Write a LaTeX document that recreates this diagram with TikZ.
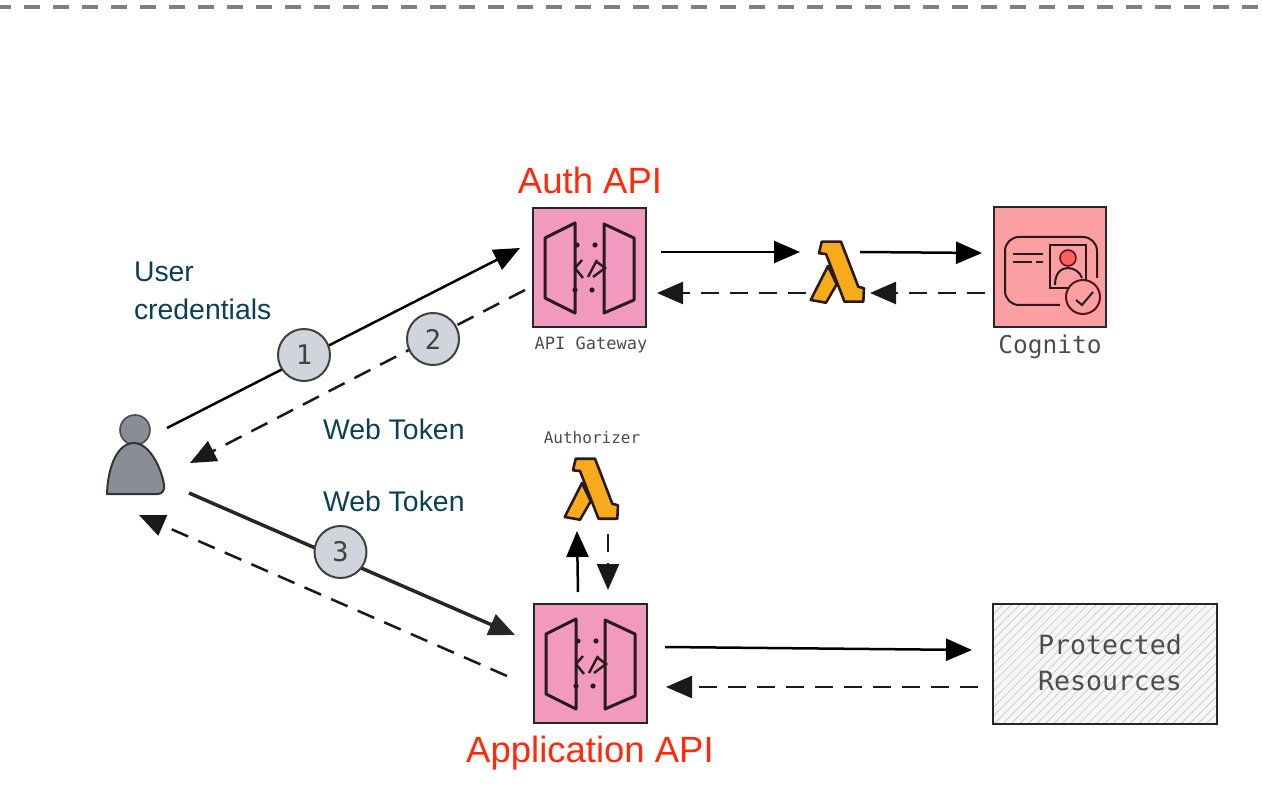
\documentclass[tikz,border=0pt]{standalone}
\usepackage{fontspec}
\setmainfont{Liberation Sans}
\setmonofont{DejaVu Sans Mono}
\usetikzlibrary{arrows.meta,patterns.meta}

\definecolor{gatewaypink}{HTML}{F29ABD}
\definecolor{cognitopink}{HTML}{FC9FA3}
\definecolor{lambdaorange}{HTML}{F7AB1B}
\definecolor{notetext}{HTML}{0B3F56}
\definecolor{titlered}{HTML}{FF2A0A}
\definecolor{stepgray}{HTML}{D0D4DB}
\definecolor{persongray}{HTML}{8A8D96}
\definecolor{iconline}{HTML}{2A1A1E}

\tikzset{
    box node/.style={draw=black!85,line width=2.6pt,outer sep=0pt,inner sep=0pt},
    gateway node/.style={box node,fill=gatewaypink,minimum width=113pt,minimum height=119pt},
    icon node/.style={inner sep=0pt,outer sep=0pt},
    step node/.style={circle,draw=black!75,line width=2pt,fill=stepgray,minimum size=52pt,inner sep=0pt,text=black!75,font=\ttfamily\fontsize{27}{27}\selectfont},
    note node/.style={inner sep=0pt,outer sep=0pt,anchor=west,align=left,text=notetext,font=\fontsize{28.4}{38}\selectfont},
    title node/.style={inner sep=0pt,text=titlered,font=\fontsize{36.5}{40}\selectfont},
    mono node/.style={inner sep=0pt,text=black!70,font=\ttfamily},
    call/.style={->,line width=2.5pt,black},
    reply/.style={->,line width=2.5pt,black!90,dash pattern=on 18pt off 11pt},
    gatewayicon/.pic={
        \draw[line width=3pt,iconline,line join=round] (-44.5,-29.5) -- (-14.5,-44.5) -- (-14.5,45.5) -- (-44.5,30.5) -- cycle;
        \draw[line width=3pt,iconline,line join=round] (14.5,-43.5) -- (44.5,-29.5) -- (44.5,32.5) -- (14.5,45.5) -- cycle;
        \foreach \dotx/\doty in {-12.5/-22.5,5.5/-22.5,-14.5/22.5,2.5/22.5}
            \fill[iconline] (\dotx,\doty) circle (2.6pt);
        \draw[line width=2.4pt,iconline] (-7.5,-7.5) -- (-14.5,0.5) -- (-6.5,10.5);
        \draw[line width=2.4pt,iconline] (-1.5,9.5) -- (7.5,-7.5);
        \draw[line width=2.4pt,iconline] (7.5,-5.5) -- (15.5,0.5) -- (3.5,9.5);
    },
    lambdaicon/.pic={
        \draw[line width=2.6pt,iconline,fill=lambdaorange,line join=round] (-15.3,-30.3) -- (4,-30.3) -- (21.3,14.7) -- (27,16.3) -- (26.3,29.7) -- (7.5,29.7) -- (-11,-18) -- (-18,-18.7) -- cycle;
        \draw[line width=2.6pt,iconline,fill=lambdaorange,line join=round] (-9,-6) -- (-0.3,12.3) -- (-11,30.7) -- (-26.3,28) -- cycle;
    }
}

\begin{document}
\begin{tikzpicture}[x=1pt,y=-1pt,>={Triangle[length=26pt,width=22pt]}]

    \useasboundingbox (0,0) rectangle (1262,810);

    \node[inner sep=0pt,minimum width=1262pt,minimum height=4pt] (topedge) at (631,7) {};
    \draw[line width=3.5pt,black!50,dash pattern=on 16pt off 13pt,dash phase=5pt] (topedge.west) -- (topedge.east);

    \node[icon node,minimum width=58pt,minimum height=80pt] (person) at (136,456) {};
    \node[gateway node] (authgw) at (589.5,267.5) {};
    \node[gateway node] (appgw) at (590.5,663.5) {};
    \node[icon node,minimum width=54pt,minimum height=61pt] (authlambda) at (837,272) {};
    \node[icon node,minimum width=54pt,minimum height=61pt] (authorizer) at (591,489) {};
    \node[box node,fill=cognitopink,minimum width=112pt,minimum height=120pt] (cognito) at (1050,267) {};
    \node[box node,minimum width=224pt,minimum height=120pt,preaction={fill=black!3},pattern={Lines[angle=45,distance=6pt,line width=1pt]},pattern color=black!17] (protected) at (1105,664) {};

    \fill[persongray,draw=black!70,line width=1.6pt] (135,430) circle (15pt);
    \draw[persongray,fill=persongray,draw=black!80,line width=2pt,line join=round] (107,494) .. controls (108,465) and (118,443) .. (134,443) .. controls (150,443) and (162,470) .. (164,485) .. controls (165,490) and (162,494) .. (158,494) -- cycle;

    \pic at (authgw) {gatewayicon};
    \pic at (appgw) {gatewayicon};
    \pic at (authlambda) {lambdaicon};
    \pic at (authorizer) {lambdaicon};

    \draw[iconline,line width=2pt] (1060,305) -- (1019,305) arc[start angle=90,end angle=180,x radius=14pt,y radius=-14pt] -- (1005,251) arc[start angle=180,end angle=270,x radius=14pt,y radius=-14pt] -- (1083,237) arc[start angle=270,end angle=360,x radius=14pt,y radius=-14pt] -- (1097,278);
    \draw[iconline,line width=2pt] (1013,254) -- (1043,254);
    \draw[iconline,line width=2pt] (1013,262) -- (1032,262) (1036,262) -- (1043,262);
    \draw[iconline,line width=2pt] (1050,245) rectangle (1086,288);
    \draw[iconline!80!red,line width=1.5pt,fill=red!40!cognitopink] (1068,258) circle (8pt);
    \draw[iconline,line width=2pt] (1055,285) .. controls (1055,272) and (1062,268) .. (1068,268) .. controls (1074,268) and (1080,272) .. (1082,278);
    \draw[iconline!80!red,line width=2pt,fill=cognitopink] (1083,297) circle (17pt);
    \draw[iconline,line width=2pt] (1076,300) -- (1082,305) -- (1093,292);

    \draw[call] ([shift={(2,-28)}]person.east) -- ([shift={(-13,-19.5)}]authgw.west);
    \draw[reply] ([shift={(-8,22.5)}]authgw.west) -- ([shift={(25,7)}]person.east);
    \draw[call,line width=3.5pt,black!85] ([shift={(24,37)}]person.east) -- ([shift={(-19,-28.5)}]appgw.west);
    \draw[reply] ([shift={(-27,12.5)}]appgw.west) -- ([shift={(3,19)}]person.south);
    \draw[call] ([shift={(15,-15.5)}]authgw.east) -- ([shift={(-10,-20)}]authlambda.west);
    \draw[reply] ([shift={(-4,21)}]authlambda.west) -- ([shift={(11,25.5)}]authgw.east);
    \draw[call] ([shift={(-4,-20)}]authlambda.east) -- ([shift={(-12,-14)}]cognito.west);
    \draw[reply] ([shift={(-9,26)}]cognito.west) -- ([shift={(6,21)}]authlambda.east);
    \draw[call] ([shift={(-12.5,-12)}]appgw.north) -- ([shift={(-14,11.5)}]authorizer.south);
    \draw[reply] ([shift={(17,14.5)}]authorizer.south) -- ([shift={(17.5,-14)}]appgw.north);
    \draw[call] ([shift={(18,-16.5)}]appgw.east) -- ([shift={(-21,-14)}]protected.west);
    \draw[reply] ([shift={(-15,23)}]protected.west) -- ([shift={(19,23.5)}]appgw.east);

    \node[step node] (step1) at (304,355) {1};
    \node[step node] (step2) at (433,339) {2};
    \node[step node] (step3) at (340.5,552) {3};

    \node[title node] (authtitle) at (590,180) {Auth API};
    \node[title node] (apptitle) at (590,753.5) {Application API};
    \node[note node] (credentials) at (134,291) {User\\credentials};
    \node[note node] (token1) at (323,429) {Web Token};
    \node[note node] (token2) at (323,501) {Web Token};
    \node[mono node,font=\ttfamily\fontsize{17}{17}\selectfont] (gwlabel) at (591,344.5) {API Gateway};
    \node[mono node,font=\ttfamily\fontsize{24.5}{24.5}\selectfont] (cognitolabel) at (1050,347) {Cognito};
    \node[mono node,font=\ttfamily\fontsize{16}{16}\selectfont] (authorizerlabel) at (592,438) {Authorizer};
    \node[mono node,align=center,font=\ttfamily\fontsize{26.5}{36}\selectfont] (protectedlabel) at (1110,663) {Protected\\Resources};

\end{tikzpicture}
\end{document}
